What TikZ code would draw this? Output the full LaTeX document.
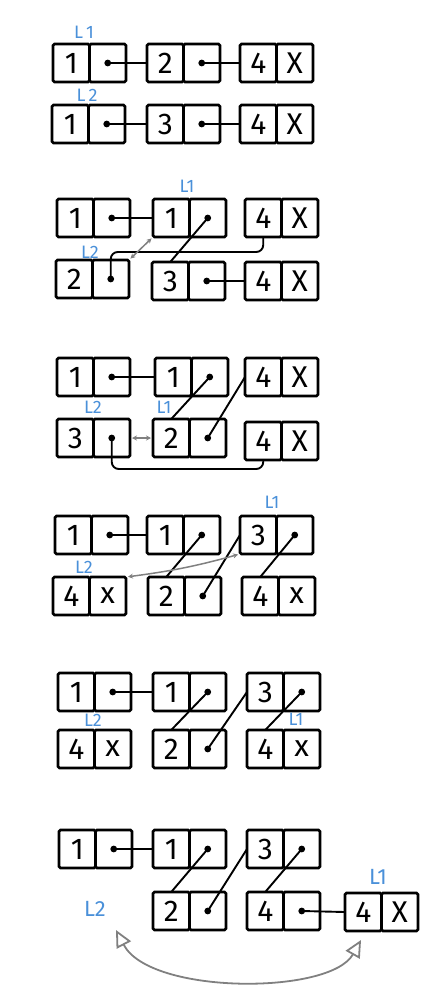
\documentclass[tikz,border=0pt]{standalone}
\usepackage{fontspec}
\setmainfont{Fira Sans}
\usetikzlibrary{arrows.meta,calc}
\definecolor{lblue}{RGB}{74,144,217}
\definecolor{agray}{RGB}{128,128,128}
\tikzset{
  cell/.style={draw, line width=2.8pt, minimum width=36.5pt, minimum height=38pt,
    inner sep=0pt, outer sep=0pt, anchor=north west, rounded corners=1.5pt,
    font=\fontsize{30}{30}\selectfont},
  link/.style={line width=1.9pt, line cap=round},
  lbl/.style={text=lblue, font=\fontsize{18}{18}\selectfont},
  swap/.style={draw=agray, line width=1.5pt,
    {Stealth[length=5pt,width=5pt]}-{Stealth[length=5pt,width=5pt]},
    shorten <=2pt, shorten >=2pt},
  bigswap/.style={draw=agray, line width=1.8pt,
    {Triangle[open,length=17pt,width=16pt,fill=white]}-{Triangle[open,length=17pt,width=16pt,fill=white]}}
}
\newcommand\lnode[5]{%
  \node[cell] (#1v) at (#2,#3) {#4};
  \node[cell] (#1p) at (#1v.north east) {#5};}
\newcommand\pdot[1]{\fill (#1p.center) circle[radius=3.4pt];}
\begin{document}
\begin{tikzpicture}[x=1pt,y=-1pt]
\useasboundingbox (0,0) rectangle (440,995);
% ---------- panel 1
\lnode{PaA}{53}{44}{1}{}
\lnode{PaB}{147}{44}{2}{}
\lnode{PaC}{240}{44}{4}{X}
\lnode{PaD}{52}{105}{1}{}
\lnode{PaE}{147}{105}{3}{}
\lnode{PaF}{240}{105}{4}{X}
\foreach \n in {PaA,PaB,PaD,PaE} {\pdot{\n}}
\draw[link] (PaAp.center) -- (PaBv.west);
\draw[link] (PaBp.center) -- (PaCv.west);
\draw[link] (PaDp.center) -- (PaEv.west);
\draw[link] (PaEp.center) -- (PaFv.west);
\node[lbl] (PaL1) at (84,32) {L\,1};
\node[lbl] (PaL2) at (87,95) {L\,2};
% ---------- panel 2
\lnode{PbA}{57}{199}{1}{}
\lnode{PbB}{153}{199}{1}{}
\lnode{PbC}{245}{199}{4}{X}
\lnode{PbD}{56}{260}{2}{}
\lnode{PbE}{152}{262}{3}{}
\lnode{PbF}{245}{262}{4}{X}
\foreach \n in {PbA,PbB,PbD,PbE} {\pdot{\n}}
\draw[link] (PbAp.center) -- (PbBv.west);
\draw[link] (PbBp.center) -- (PbEv.north);
\coordinate (Pbk) at (200,252);
\draw[link, rounded corners=7pt] (PbDp.center) |- (Pbk) -| (PbCv.south);
\draw[link] (PbEp.center) -- (PbFv.west);
\draw[swap] (PbDp.north east) -- (PbBv.south west);
\node[lbl] (PbL1) at (187,186) {L1};
\node[lbl] (PbL2) at (90,252) {L2};
% ---------- panel 3
\lnode{PcA}{57}{358}{1}{}
\lnode{PcB}{155}{358}{1}{}
\lnode{PcC}{245}{358}{4}{X}
\lnode{PcD}{57}{419}{3}{}
\lnode{PcE}{153}{419}{2}{}
\lnode{PcF}{245}{422}{4}{X}
\foreach \n in {PcA,PcB,PcD,PcE} {\pdot{\n}}
\draw[link] (PcAp.center) -- (PcBv.west);
\draw[link] (PcBp.center) -- (PcEv.north);
\draw[link] (PcEp.center) -- (PcCv.west);
\coordinate (Pck) at (200,469);
\draw[link, rounded corners=7pt] (PcDp.center) |- (Pck) -| (PcFv.south);
\draw[swap] (PcDp.east) -- (PcEv.west);
\node[lbl] (PcL2) at (93,407) {L2};
\node[lbl] (PcL1) at (164,407) {L1};
% ---------- panel 4
\lnode{PdA}{55}{516}{1}{}
\lnode{PdB}{147}{516}{1}{}
\lnode{PdC}{240}{516}{3}{}
\lnode{PdD}{53}{577}{4}{x}
\lnode{PdE}{148}{577}{2}{}
\lnode{PdF}{242}{577}{4}{x}
\foreach \n in {PdA,PdB,PdC,PdE} {\pdot{\n}}
\draw[link] (PdAp.center) -- (PdBv.west);
\draw[link] (PdBp.center) -- (PdEv.north);
\draw[link] (PdEp.center) -- (PdCv.west);
\draw[link] (PdCp.center) -- (PdFv.north);
\draw[swap] (PdCv.south west) to[bend left=4] (PdDp.north east);
\node[lbl] (PdL1) at (272,502) {L1};
\node[lbl] (PdL2) at (84,567) {L2};
% ---------- panel 5
\lnode{PeA}{58}{673}{1}{}
\lnode{PeB}{153}{673}{1}{}
\lnode{PeC}{247}{673}{3}{}
\lnode{PeD}{58}{730}{4}{x}
\lnode{PeE}{153}{730}{2}{}
\lnode{PeF}{247}{730}{4}{x}
\foreach \n in {PeA,PeB,PeC,PeE} {\pdot{\n}}
\draw[link] (PeAp.center) -- (PeBv.west);
\draw[link] (PeBp.center) -- (PeEv.north);
\draw[link] (PeEp.center) -- (PeCv.west);
\draw[link] (PeCp.center) -- (PeFv.north);
\node[lbl] (PeL2) at (93,720) {L2};
\node[lbl] (PeL1) at (296,719) {L1};
% ---------- panel 6
\lnode{PfA}{59}{830}{1}{}
\lnode{PfB}{153}{830}{1}{}
\lnode{PfC}{247}{830}{3}{}
\lnode{PfE}{153}{892}{2}{}
\lnode{PfF}{247}{892}{4}{}
\lnode{PfG}{345}{893}{4}{X}
\foreach \n in {PfA,PfB,PfC,PfE,PfF} {\pdot{\n}}
\draw[link] (PfAp.center) -- (PfBv.west);
\draw[link] (PfBp.center) -- (PfEv.north);
\draw[link] (PfEp.center) -- (PfCv.west);
\draw[link] (PfCp.center) -- (PfFv.north);
\draw[link] (PfFp.center) -- (PfGv.west);
\node[lbl, font=\fontsize{22}{22}\selectfont] (PfL1) at (378,877) {L1};
\node[lbl, font=\fontsize{22}{22}\selectfont] (PfL2) at (95,909) {L2};
\coordinate (Pfs) at (116,930);
\coordinate (Pfe) at (361,940);
\draw[bigswap] (Pfs) .. controls (150,995) and (330,995) .. (Pfe);
\end{tikzpicture}
\end{document}
